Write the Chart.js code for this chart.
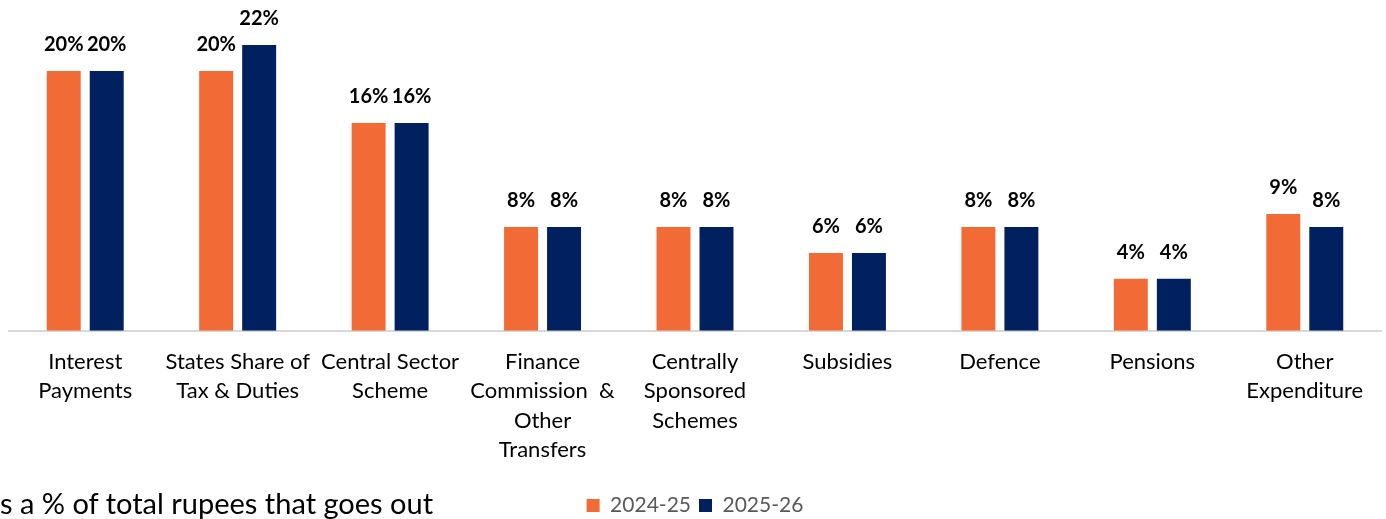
<!DOCTYPE html>
<html>
<head>
<meta charset="utf-8">
<script src="https://cdn.jsdelivr.net/npm/chart.js@4.4.1/dist/chart.umd.min.js"></script>
<style>
  html, body { margin: 0; padding: 0; background: #fff; }
  #wrap { position: relative; width: 1386px; height: 519px; overflow: hidden; }
  #c { position: absolute; left: 0; top: 0; }
  #note { position: absolute; left: 0; top: 487px; font-family: Lato, "Open Sans", sans-serif; font-size: 29px; color: #000; white-space: nowrap; line-height: 32px; }
</style>
</head>
<body>
<div id="wrap">
  <canvas id="c" width="1386" height="519"></canvas>
  <div id="note">s a % of total rupees that goes out</div>
</div>
<script>
const categories = [
  ["Interest", "Payments"],
  ["States Share of", "Tax & Duties"],
  ["Central Sector", "Scheme"],
  ["Finance", "Commission  &", "Other", "Transfers"],
  ["Centrally", "Sponsored", "Schemes"],
  ["Subsidies"],
  ["Defence"],
  ["Pensions"],
  ["Other", "Expenditure"]
];
const series2024 = [20, 20, 16, 8, 8, 6, 8, 4, 9];
const series2025 = [20, 22, 16, 8, 8, 6, 8, 4, 8];
const seriesNames = ["2024-25", "2025-26"];

const FONT = "Lato, 'Open Sans', sans-serif";

const valueLabels = {
  id: 'valueLabels',
  afterDatasetsDraw(chart) {
    const ctx = chart.ctx;
    ctx.save();
    ctx.font = "bold 20px " + FONT;
    ctx.fillStyle = "#000";
    ctx.textAlign = "center";
    ctx.textBaseline = "middle";
    chart.data.datasets.forEach((ds, i) => {
      const meta = chart.getDatasetMeta(i);
      meta.data.forEach((el, j) => {
        ctx.fillText(ds.data[j] + "%", el.x, el.y - 26);
      });
    });
    ctx.restore();
  }
};

const legendShift = {
  id: 'legendShift',
  beforeInit(chart) {
    const lg = chart.legend;
    if (!lg) return;
    const origFit = lg.fit;
    lg.fit = function () { origFit.call(this); this.height -= 7; };
  }
};

new Chart(document.getElementById('c'), {
  type: 'bar',
  data: {
    labels: categories,
    datasets: [
      { label: seriesNames[0], data: series2024, backgroundColor: '#F26B36', categoryPercentage: 0.564, barPercentage: 0.79 },
      { label: seriesNames[1], data: series2025, backgroundColor: '#002060', categoryPercentage: 0.564, barPercentage: 0.79 }
    ]
  },
  options: {
    responsive: false,
    animation: false,
    layout: { padding: { left: 9, right: 5, top: 6, bottom: 0 } },
    scales: {
      y: { display: false, min: 0, max: 25 },
      x: {
        grid: { display: false, drawTicks: false },
        border: { display: true, color: '#d9d9d9', width: 2 },
        afterFit(scale) { scale.height += 6; },
        ticks: {
          color: '#000',
          font: { family: FONT, size: 22, lineHeight: 1.32 },
          padding: 17,
          maxRotation: 0,
          autoSkip: false
        }
      }
    },
    plugins: {
      legend: {
        position: 'bottom',
        labels: {
          boxWidth: 13, boxHeight: 13,
          color: '#595959',
          font: { family: FONT, size: 21 },
          padding: 8
        }
      },
      tooltip: { enabled: false }
    }
  },
  plugins: [valueLabels, legendShift]
});
</script>
</body>
</html>
